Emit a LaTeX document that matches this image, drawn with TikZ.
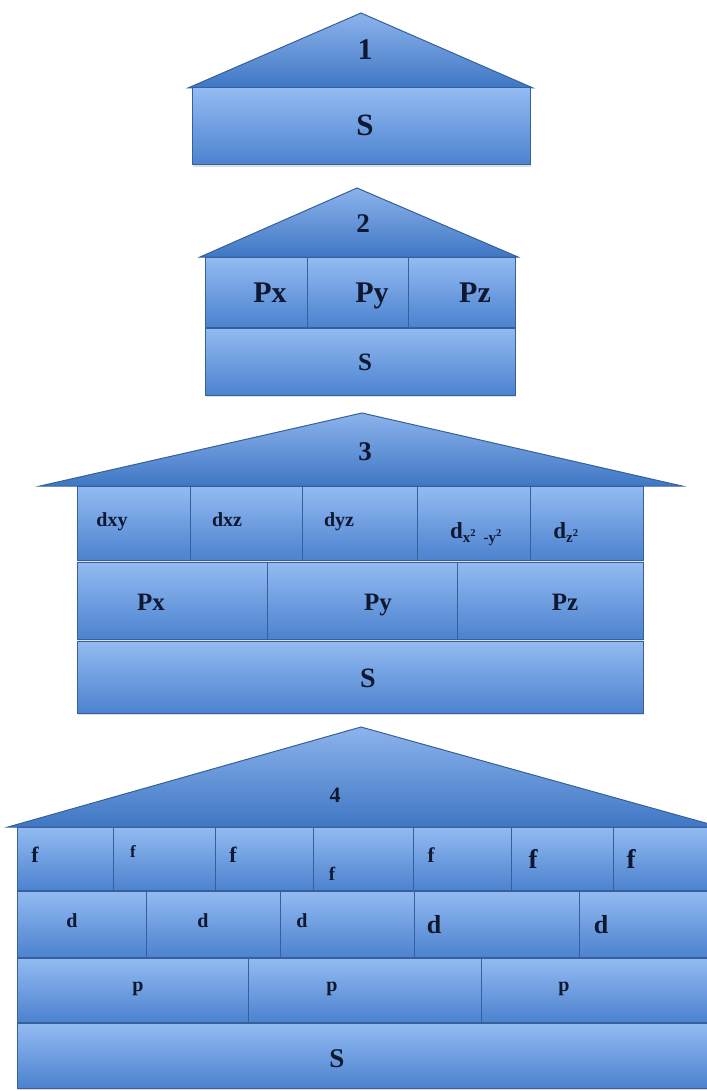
\documentclass[tikz,border=0pt]{standalone}
\usepackage{fontspec}
\setmainfont{Liberation Serif}
\usetikzlibrary{shadows}
\definecolor{celltop}{HTML}{93BBF2}
\definecolor{cellbot}{HTML}{4C82CF}
\definecolor{rooftop}{HTML}{8CB3EC}
\definecolor{roofbot}{HTML}{3F77C4}
\definecolor{edge}{HTML}{35609C}
\definecolor{ink}{HTML}{0E1830}
\newcommand{\fs}[1]{\fontsize{#1}{#1}\selectfont\bfseries}
\newcommand{\dsub}[1]{\raisebox{-4pt}{\fontsize{15}{15}\selectfont #1}}
\begin{document}
\begin{tikzpicture}[x=1pt,y=-1pt,
  cell/.style={draw=edge,line width=1pt,top color=celltop,bottom color=cellbot,
    drop shadow={opacity=0.25,shadow xshift=1pt,shadow yshift=-2pt}},
  roof/.style={draw=edge,line width=1pt,top color=rooftop,bottom color=roofbot},
  lbl/.style={anchor=base,text=ink,inner sep=0pt}]
  \useasboundingbox (0,0) rectangle (706,1091);

  % house 1
  \path[roof] (188,88) -- (361,13) -- (533,88) -- cycle;
  \path[cell] (192,88) rectangle (530,165);
  \node[lbl,font=\fs{30}] (one) at (365,60) {1};
  \node[lbl,font=\fs{31}] (s1) at (365,136) {S};

  % house 2
  \path[roof] (200,257) -- (357,188) -- (518,257) -- cycle;
  \foreach \xa/\xb in {205/307,307/408,408/515}
    \path[cell] (\xa,257) rectangle (\xb,327);
  \path[cell] (205,328) rectangle (515,395);
  \node[lbl,font=\fs{27}] (two) at (363,233) {2};
  \foreach \x/\t [count=\i] in {270/Px,372/Py,475/Pz}
    \node[lbl,font=\fs{30}] (h2p\i) at (\x,302) {\t};
  \node[lbl,font=\fs{25}] (s2) at (365,370) {S};

  % house 3
  \path[roof] (40,486) -- (362,413) -- (682,486) -- cycle;
  \foreach \xa/\xb in {77/190,190/302,302/417,417/530,530/643}
    \path[cell] (\xa,486) rectangle (\xb,560);
  \foreach \xa/\xb in {77/267,267/457,457/643}
    \path[cell] (\xa,562) rectangle (\xb,639);
  \path[cell] (77,641) rectangle (643,713);
  \node[lbl,font=\fs{27}] (three) at (365,460) {3};
  \foreach \x/\t [count=\i] in {112/dxy,227/dxz,339/dyz}
    \node[lbl,font=\fs{20}] (h3d\i) at (\x,526) {\t};
  \node[lbl,font=\fs{23}] (h3d4) at (476,538) {d\dsub{x\textsuperscript{2}\ \ -y\textsuperscript{2}}};
  \node[lbl,font=\fs{23}] (h3d5) at (566,538) {d\dsub{z\textsuperscript{2}}};
  \foreach \x/\t [count=\i] in {151/Px,378/Py,565/Pz}
    \node[lbl,font=\fs{25}] (h3p\i) at (\x,610) {\t};
  \node[lbl,font=\fs{28}] (s3) at (368,687) {S};

  % house 4
  \path[roof] (8,827) -- (361,727) -- (720,827) -- cycle;
  \foreach \xa/\xb in {17/113,113/215,215/313,313/413,413/511,511/613,613/716}
    \path[cell] (\xa,827) rectangle (\xb,890);
  \foreach \xa/\xb in {17/146,146/280,280/414,414/579,579/716}
    \path[cell] (\xa,891) rectangle (\xb,957);
  \foreach \xa/\xb in {17/248,248/481,481/716}
    \path[cell] (\xa,958) rectangle (\xb,1022);
  \path[cell] (17,1023) rectangle (716,1088);
  \node[lbl,font=\fs{22}] (four) at (335,802) {4};
  \foreach \x/\y/\s [count=\i] in {35/862/22,133/857/17,233/862/22,332/880/19,431/862/21,533/868/27,631/868/27}
    \node[lbl,font=\fs{\s}] (h4f\i) at (\x,\y) {f};
  \foreach \x/\y/\s [count=\i] in {72/927/20,203/927/20,302/927/20,434/933/26,601/933/26}
    \node[lbl,font=\fs{\s}] (h4d\i) at (\x,\y) {d};
  \foreach \x [count=\i] in {138,332,564}
    \node[lbl,font=\fs{20}] (h4p\i) at (\x,991) {p};
  \node[lbl,font=\fs{27}] (s4) at (337,1067) {S};
\end{tikzpicture}
\end{document}
